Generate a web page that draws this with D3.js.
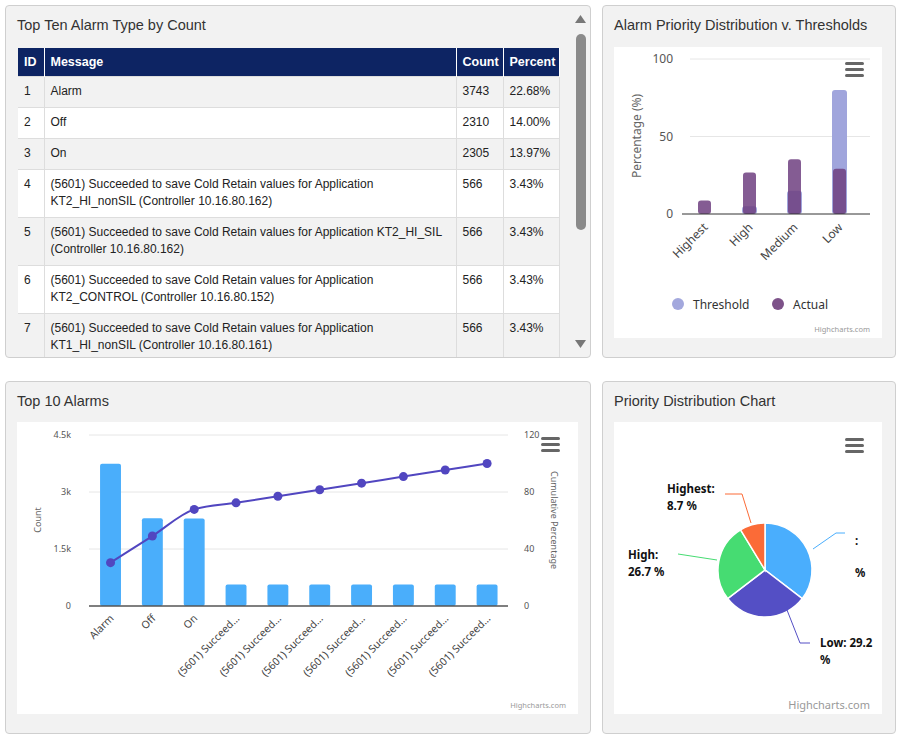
<!DOCTYPE html>
<html>
<head>
<meta charset="utf-8">
<script src="https://cdn.jsdelivr.net/npm/d3@7.9.0/dist/d3.min.js"></script>
<style>
  body { margin: 0; width: 898px; height: 735px; background: #fff; font-family: "Liberation Sans", Arial, sans-serif; position: relative; overflow: hidden; }
  .panel { position: absolute; background: #f2f2f2; border: 1px solid #cfcfcf; border-radius: 4px; box-sizing: border-box; overflow: hidden; }
  .title { position: absolute; left: 11px; top: 11px; font-size: 14.5px; color: #333; }
  .tbl { position: absolute; left: 12px; top: 42px; border-collapse: collapse; font-size: 12px; color: #222; width: 541px; table-layout: fixed; }
  .tbl th { background: #0d2463; color: #fff; text-align: left; font-weight: bold; padding: 6px 6px; height: 16px; border-right: 1px solid #fff; font-size: 12.5px; }
  .tbl td { padding: 6px 6px 7px 6px; vertical-align: top; line-height: 17px; border-right: 1px solid #ddd; border-top: 1px solid #ddd; }
  .tbl tr:nth-child(odd) td { background: #f2f2f2; }
  .tbl tr:nth-child(even) td { background: #fff; }
  svg { position: absolute; left: 0; top: 0; }
</style>
</head>
<body>
<div class="panel" style="left:5px;top:5px;width:586px;height:353px;">
  <div class="title">Top Ten Alarm Type by Count</div>
  <table class="tbl" id="tbl"></table>
</div>
<div class="panel" style="left:602px;top:5px;width:294px;height:353px;"><div class="title">Alarm Priority Distribution v. Thresholds</div></div>
<div class="panel" style="left:5px;top:381px;width:586px;height:353px;"><div class="title">Top 10 Alarms</div></div>
<div class="panel" style="left:602px;top:381px;width:294px;height:353px;"><div class="title">Priority Distribution Chart</div></div>
<svg id="main" width="898" height="735"></svg>
<script>
// table data
const ids = [1, 2, 3, 4, 5, 6, 7];
const messages = [
  'Alarm', 'Off', 'On',
  '(5601) Succeeded to save Cold Retain values for Application KT2_HI_nonSIL (Controller 10.16.80.162)',
  '(5601) Succeeded to save Cold Retain values for Application KT2_HI_SIL (Controller 10.16.80.162)',
  '(5601) Succeeded to save Cold Retain values for Application KT2_CONTROL (Controller 10.16.80.152)',
  '(5601) Succeeded to save Cold Retain values for Application KT1_HI_nonSIL (Controller 10.16.80.161)'
];
const counts = [3743, 2310, 2305, 566, 566, 566, 566];
const percents = ['22.68%', '14.00%', '13.97%', '3.43%', '3.43%', '3.43%', '3.43%'];

// priority vs threshold
const priorities = ['Highest', 'High', 'Medium', 'Low'];
const thresholdVals = [0, 5, 15, 80];
const actualVals = [8.7, 26.7, 35.4, 29.2];

// top 10 alarms
const alarmLabels = ['Alarm', 'Off', 'On', '(5601) Succeed…', '(5601) Succeed…', '(5601) Succeed…',
  '(5601) Succeed…', '(5601) Succeed…', '(5601) Succeed…', '(5601) Succeed…'];
const alarmCounts = [3743, 2310, 2305, 566, 566, 566, 566, 566, 566, 566];
const cumulativePct = [30.4, 49.1, 67.8, 72.4, 77.0, 81.6, 86.2, 90.8, 95.4, 100];

// pie
const pieNames = ['Medium', 'Low', 'High', 'Highest'];
const pieVals = [35.4, 29.2, 26.7, 8.7];

// ---- table
const tbl = d3.select('#tbl');
const cols = tbl.append('colgroup');
[26, 412, 47, 56].forEach(w => cols.append('col').style('width', w + 'px'));
tbl.append('tr').selectAll('th').data(['ID', 'Message', 'Count', 'Percent']).join('th').text(d => d);
ids.forEach((id, i) => {
  tbl.append('tr').selectAll('td').data([id, messages[i], counts[i], percents[i]]).join('td').text(d => d);
});

const svg = d3.select('#main');
// fake scrollbar
svg.append('rect').attr('x', 576).attr('y', 34).attr('width', 10).attr('height', 196).attr('rx', 5).attr('fill', '#8a8a8a');
svg.append('path').attr('d', 'M575,23 L586,23 L580.5,15 Z').attr('fill', '#777');
svg.append('path').attr('d', 'M575,340 L586,340 L580.5,348 Z').attr('fill', '#777');

function menu(g, x, y) {
  [0, 6, 12].forEach(o => g.append('rect').attr('x', x).attr('y', y + o).attr('width', 19).attr('height', 3).attr('rx', 1.5).attr('fill', '#666'));
}
function credit(g, x, y, size) {
  g.append('text').attr('x', x).attr('y', y).attr('text-anchor', 'end').attr('font-size', size).attr('fill', '#999').text('Highcharts.com');
}

// ---- chart 2
{
  svg.append('rect').attr('x', 614).attr('y', 47).attr('width', 268).attr('height', 291).attr('fill', '#fff');
  const g = svg.append('g').attr('font-family', '"Noto Sans", sans-serif');
  const x = d3.scaleBand().domain(priorities).range([682, 862]);
  const y = d3.scaleLinear().domain([0, 100]).range([214, 59]);
  [50, 100].forEach(t => g.append('line').attr('x1', 690).attr('x2', 870).attr('y1', y(t)).attr('y2', y(t)).attr('stroke', '#e6e6e6'));
  g.selectAll('.yt').data([0, 50, 100]).join('text').attr('x', 673).attr('y', d => y(d) + 4)
    .attr('text-anchor', 'end').attr('font-size', 12).attr('fill', '#555').text(d => d);
  g.append('text').attr('transform', 'translate(641,136) rotate(-90)').attr('text-anchor', 'middle')
    .attr('font-size', 12).attr('fill', '#666').text('Percentage (%)');
  const bw = 13;
  g.selectAll('.th').data(priorities).join('rect').attr('x', d => x(d) + x.bandwidth() / 2 - bw / 2 - 1)
    .attr('width', bw + 2).attr('y', (d, i) => y(thresholdVals[i])).attr('height', (d, i) => y(0) - y(thresholdVals[i]))
    .attr('rx', 3).attr('fill', '#a0a5dc');
  g.selectAll('.ac').data(priorities).join('rect').attr('x', d => x(d) + x.bandwidth() / 2 - bw / 2)
    .attr('width', bw).attr('y', (d, i) => y(actualVals[i])).attr('height', (d, i) => y(0) - y(actualVals[i]))
    .attr('rx', 3).attr('fill', '#6f3f80').attr('opacity', 0.85);
  g.append('line').attr('x1', 682).attr('x2', 870).attr('y1', y(0)).attr('y2', y(0)).attr('stroke', '#333');
  g.selectAll('.xl').data(priorities).join('text')
    .attr('transform', d => `translate(${x(d) + x.bandwidth() / 2 + 4},${228}) rotate(-45)`)
    .attr('text-anchor', 'end').attr('font-size', 12).attr('fill', '#444').text(d => d);
  g.append('circle').attr('cx', 678).attr('cy', 304).attr('r', 6).attr('fill', '#a3a8dd');
  g.append('text').attr('x', 693).attr('y', 309).attr('font-size', 12).attr('fill', '#333').text('Threshold');
  g.append('circle').attr('cx', 778).attr('cy', 304).attr('r', 6).attr('fill', '#7d5289');
  g.append('text').attr('x', 793).attr('y', 309).attr('font-size', 12).attr('fill', '#333').text('Actual');
  menu(g, 845, 62);
  credit(g, 870, 332, 7.5);
}

// ---- chart 3
{
  svg.append('rect').attr('x', 17).attr('y', 422).attr('width', 561).attr('height', 292).attr('fill', '#fff');
  const g = svg.append('g').attr('font-family', '"Noto Sans", sans-serif');
  const x = d3.scaleBand().domain(d3.range(alarmLabels.length)).range([89.6, 508]).paddingInner(0.5).paddingOuter(0.25);
  const y = d3.scaleLinear().domain([0, 4500]).range([606, 435]);
  const y2 = d3.scaleLinear().domain([0, 120]).range([606, 435]);
  [1500, 3000, 4500].forEach(t => g.append('line').attr('x1', 89).attr('x2', 508).attr('y1', y(t)).attr('y2', y(t)).attr('stroke', '#e6e6e6'));
  g.selectAll('.yt').data([0, 1500, 3000, 4500]).join('text').attr('x', 71).attr('y', d => y(d) + 3)
    .attr('text-anchor', 'end').attr('font-size', 9).attr('fill', '#555').text(d => d === 0 ? '0' : (d / 1000) + 'k');
  g.selectAll('.yt2').data([0, 40, 80, 120]).join('text').attr('x', 524).attr('y', d => y2(d) + 3)
    .attr('font-size', 9).attr('fill', '#555').text(d => d);
  g.append('text').attr('transform', 'translate(41,520) rotate(-90)').attr('text-anchor', 'middle')
    .attr('font-size', 9).attr('fill', '#666').text('Count');
  g.append('text').attr('transform', 'translate(551,520) rotate(90)').attr('text-anchor', 'middle')
    .attr('font-size', 9).attr('fill', '#666').text('Cumulative Percentage');
  g.selectAll('.bar').data(alarmCounts).join('rect').attr('x', (d, i) => x(i)).attr('width', x.bandwidth())
    .attr('y', d => y(d)).attr('height', d => y(0) - y(d)).attr('rx', 2).attr('fill', '#4aaefb');
  g.append('line').attr('x1', 89).attr('x2', 508).attr('y1', y(0)).attr('y2', y(0)).attr('stroke', '#555').attr('stroke-width', 1.5);
  const cx = i => x(i) + x.bandwidth() / 2;
  g.append('path').attr('d', d3.line().x((d, i) => cx(i)).y(d => y2(d)).curve(d3.curveMonotoneX)(cumulativePct))
    .attr('fill', 'none').attr('stroke', '#5146c0').attr('stroke-width', 2);
  g.selectAll('.pt').data(cumulativePct).join('circle').attr('cx', (d, i) => cx(i)).attr('cy', d => y2(d))
    .attr('r', 4.5).attr('fill', '#5146c0');
  g.selectAll('.xl').data(alarmLabels).join('text')
    .attr('transform', (d, i) => `translate(${cx(i) + 4},${619}) rotate(-45)`)
    .attr('text-anchor', 'end').attr('font-size', 10.5).attr('fill', '#444').text(d => d);
  menu(g, 541, 437);
  credit(g, 566, 708, 7.5);
}

// ---- chart 4
{
  svg.append('rect').attr('x', 614).attr('y', 422).attr('width', 268).attr('height', 292).attr('fill', '#fff');
  const g = svg.append('g').attr('font-family', '"Noto Sans", sans-serif');
  const colors = d3.scaleOrdinal().domain(pieNames).range(['#4aaefd', '#544fc5', '#46dc72', '#fb6b37']);
  const pie = d3.pie().sort(null).value(d => d)(pieVals);
  const arc = d3.arc().innerRadius(0).outerRadius(47);
  const pg = g.append('g').attr('transform', 'translate(765,570)');
  pg.selectAll('path').data(pie).join('path').attr('d', arc).attr('fill', (d, i) => colors(pieNames[i]))
    .attr('stroke', '#fff').attr('stroke-width', 1.5);
  // connectors and labels
  const labels = [
    { lines: [':', '%'], pts: [[813, 549], [836, 533], [845, 533]], tx: 855, ty: 545, dy: 32 },
    { lines: ['Low: 29.2', '%'], pts: [[787, 610], [800, 643], [810, 643]], tx: 820, ty: 647, dy: 17 },
    { lines: ['High:', '26.7 %'], pts: [[717, 560], [678, 554]], tx: 628, ty: 559, dy: 17 },
    { lines: ['Highest:', '8.7 %'], pts: [[751, 523], [742, 494], [725, 494]], tx: 667, ty: 493, dy: 17 }
  ];
  labels.forEach((l, i) => {
    g.append('path').attr('d', d3.line()(l.pts)).attr('fill', 'none').attr('stroke', colors(pieNames[i])).attr('stroke-width', 1);
    l.lines.forEach((t, j) => g.append('text').attr('x', l.tx).attr('y', l.ty + j * l.dy)
      .attr('font-size', 11.5).attr('font-weight', 'bold').attr('fill', '#111').text(t));
  });
  menu(g, 845, 438);
  credit(g, 870, 709, 11);
}
</script>
</body>
</html>
